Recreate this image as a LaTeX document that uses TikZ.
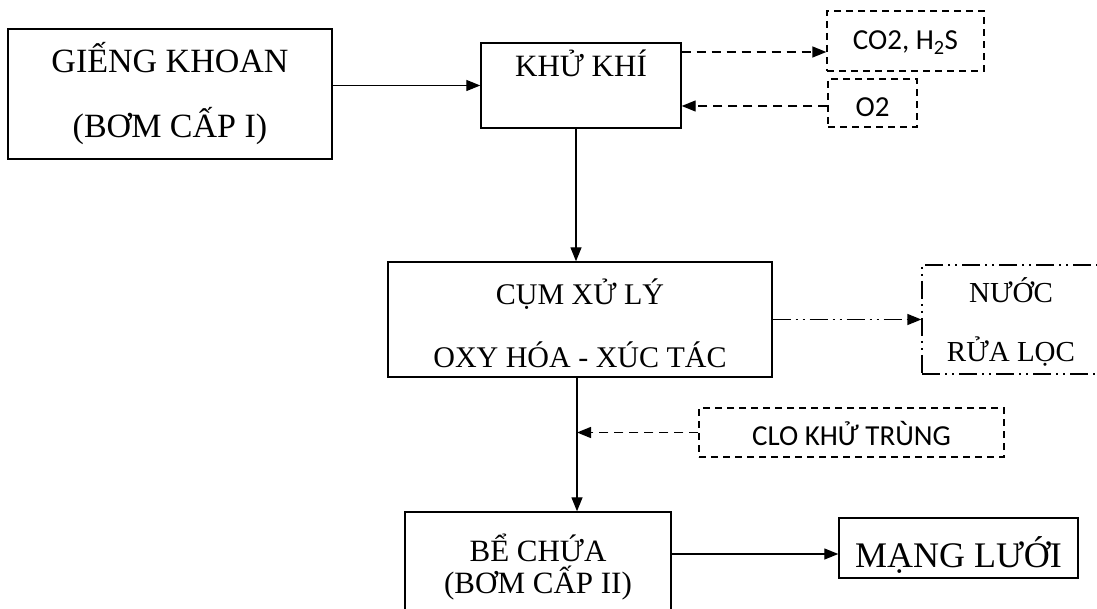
\documentclass[tikz,border=0pt]{standalone}
\usepackage{fontspec}
\setmainfont{Liberation Serif}
\newfontfamily\sansc{Carlito}
\usetikzlibrary{arrows.meta}
\tikzset{
  box/.style={draw, line width=1.4pt, inner sep=0pt, align=center},
  dbox/.style={draw, line width=1.3pt, dash pattern=on 7pt off 5pt, inner sep=0pt,
    font=\sansc\fontsize{29}{33}\selectfont},
  ddbox/.style={draw, line width=1.3pt, dash pattern=on 18pt off 5pt on 2pt off 5pt on 2pt off 5pt,
    inner sep=0pt, align=center},
  arr/.style={line width=1.3pt, -{Triangle[length=14pt,width=11pt]}},
  darr/.style={arr, dash pattern=on 9pt off 6pt},
  ddarr/.style={arr, dash pattern=on 18pt off 5pt on 2pt off 5pt on 2pt off 5pt},
}
\begin{document}
\begin{tikzpicture}[x=1pt,y=-1pt]
\useasboundingbox (0,0) rectangle (1097,609);
\clip (0,0) rectangle (1097,609);
% boxes
\node[box, minimum width=324pt, minimum height=130pt, text height=92pt, text depth=4pt,
  font=\fontsize{34}{65}\selectfont] (g) at (170,94) {GIẾNG KHOAN\\(BƠM CẤP I)};
\node[box, minimum width=200pt, minimum height=85pt, text height=22pt, text depth=39pt,
  font=\fontsize{31}{36}\selectfont] (khu) at (581,85.5) {KHỬ KHÍ};
\node[dbox, minimum width=157pt, minimum height=60pt, text height=20pt, text depth=2pt] (co2) at (905.5,41) {CO2, H\textsubscript{2}S};
\node[dbox, minimum width=89pt, minimum height=48pt, text height=30pt, text depth=2pt] (o2) at (872.5,103) {O2};
\node[box, minimum width=384pt, minimum height=115pt, text height=97pt, text depth=2pt,
  font=\fontsize{30}{63}\selectfont] (cum) at (580,319.5) {CỤM XỬ LÝ\\OXY HÓA - XÚC TÁC};
\node[ddbox, minimum width=178pt, minimum height=109pt, text height=87pt, text depth=2pt,
  font=\fontsize{29}{59}\selectfont] (nuoc) at (1011,319.5) {NƯỚC\\RỬA LỌC};
\node[dbox, minimum width=305pt, minimum height=49pt, text height=27pt, text depth=2pt] (clo) at (851.5,432.5) {CLO KHỬ TRÙNG};
\node[box, minimum width=266pt, minimum height=103pt, text height=61pt, text depth=2pt,
  font=\fontsize{31}{32}\selectfont] (be) at (538,563.5) {BỂ CHỨA\\(BƠM CẤP II)};
\node[box, minimum width=239pt, minimum height=60pt, text height=40pt, text depth=2pt,
  font=\fontsize{36}{40}\selectfont] (mang) at (958.5,548) {MẠNG LƯỚI};
% connectors
\draw[arr] (khu.west -| g.east) -- (khu.west);
\draw[darr] ([yshift=33.5pt]khu.east) -- ([yshift=33.5pt]khu.east -| co2.west);
\draw[darr] ([yshift=-3pt]o2.west) -- ([yshift=-3pt]o2.west -| khu.east);
\draw[arr] ([xshift=-5pt]khu.south) -- ([xshift=-5pt]khu.south |- cum.north);
\draw[ddarr] (cum.east) -- (nuoc.west);
\draw[arr] ([xshift=-3pt]cum.south) -- ([xshift=-3pt]cum.south |- be.north);
\draw[darr] (clo.west) -- ([xshift=-3pt]clo.west -| cum.south);
\draw[arr] ([yshift=-6pt]mang.west -| be.east) -- ([yshift=-6pt]mang.west);
\end{tikzpicture}
\end{document}
